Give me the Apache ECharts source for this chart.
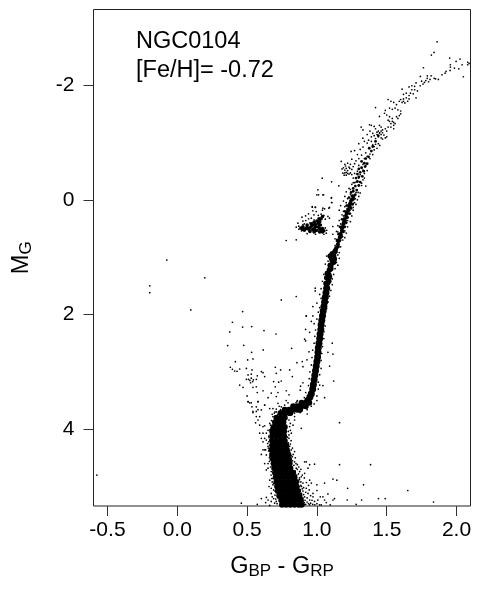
<!DOCTYPE html>
<html><head><meta charset="utf-8">
<style>html,body{margin:0;padding:0;background:#fff}#c{width:480px;height:600px}</style>
<script src="https://cdn.jsdelivr.net/npm/echarts@6/dist/echarts.min.js"></script>
</head><body><div id="c"></div>
<script>
const xTicks=[-0.5,0,0.5,1,1.5,2];
const yTicks=[-2,0,2,4];
const clusterName="NGC0104";
const metallicity="[Fe/H]= -0.72";

const lowerCore=[
[.75,5.32],[.78,5.32],[.81,5.32],[.84,5.32],[.87,5.32],[.89,5.32],
[.745,5.24],[.775,5.24],[.805,5.24],[.835,5.24],[.865,5.24],[.885,5.24],
[.73,5.16],[.76,5.16],[.79,5.16],[.82,5.16],[.85,5.16],[.875,5.16],
[.72,5.08],[.75,5.08],[.78,5.08],[.81,5.08],[.84,5.08],[.865,5.08],
[.715,5],[.745,5],[.775,5],[.805,5],[.835,5],[.855,5],
[.71,4.92],[.74,4.92],[.77,4.92],[.8,4.92],[.83,4.92],[.85,4.92],
[.705,4.84],[.735,4.84],[.765,4.84],[.795,4.84],[.825,4.84],[.84,4.84],
[.7,4.76],[.73,4.76],[.76,4.76],[.79,4.76],[.82,4.76],[.83,4.76],
[.695,4.68],[.725,4.68],[.755,4.68],[.785,4.68],[.81,4.68],
[.69,4.6],[.72,4.6],[.75,4.6],[.78,4.6],[.805,4.6],
[.685,4.52],[.715,4.52],[.745,4.52],[.775,4.52],[.8,4.52],
[.68,4.44],[.71,4.44],[.74,4.44],[.77,4.44],[.795,4.44],
[.675,4.36],[.705,4.36],[.735,4.36],[.765,4.36],[.785,4.36],
[.68,4.28],[.71,4.28],[.74,4.28],[.77,4.28],[.78,4.28],
[.68,4.2],[.71,4.2],[.74,4.2],[.77,4.2],
[.68,4.12],[.71,4.12],[.74,4.12],[.765,4.12],
[.68,4.04],[.71,4.04],[.74,4.04],[.765,4.04],
[.69,3.96],[.72,3.96],[.75,3.96],[.77,3.96],
[.7,3.88],[.73,3.88],[.76,3.88],
[.71,3.8],[.74,3.8],[.77,3.8],
[.74,3.72],[.77,3.72],[.8,3.72],[.81,3.72],
[.77,3.66],[.8,3.66],[.83,3.66],[.86,3.66],[.88,3.66],
[.83,3.6],[.86,3.6],[.89,3.6],[.92,3.6],
[.89,3.54],[.92,3.54],[.945,3.54]];

const upperCore=[
[.935,3.5],[.95,3.44],[.96,3.38],[.97,3.3],[.975,3.22],[.98,3.14],[.985,3.06],[.99,2.98],[.995,2.9],[1,2.82],
[1.005,2.74],[1.008,2.66],[1.01,2.58],[1.015,2.5],[1.02,2.42],[1.023,2.34],[1.028,2.26],[1.03,2.18],[1.035,2.1],[1.04,2.02],
[1.045,1.94],[1.05,1.86],[1.055,1.78],[1.06,1.7],[1.065,1.62],[1.07,1.54]];

const upperCoreThin=[
[1.075,1.46],[1.08,1.38],[1.085,1.3],[1.09,1.22],[1.1,1.14],[1.11,1.06],[1.12,.98],[1.13,.9],[1.105,1.02],[1.125,1.03],
[1.095,.98],[1.11,.94],[1.12,1.09],[1.1,1.2],[1.085,1.42],[1.09,1.34],[1.07,1.36],[1.065,1.46],[1.075,1.28],[1.095,1.14]];

const giantMid=[
[1.135,.86],[1.14,.84],[1.15,.78],[1.155,.72],[1.165,.66],[1.17,.6],[1.18,.54],[1.185,.48],[1.19,.42],[1.2,.36],
[1.21,.3],[1.215,.24],[1.225,.18],[1.235,.12],[1.24,.06],[1.25,0],[1.26,-.06]];

const giantCore=[
[1.14,.84],[1.155,.82],[1.15,.76],[1.165,.71],[1.145,.7],[1.16,.65],[1.18,.64],[1.17,.58],[1.155,.6],[1.19,.56],
[1.175,.5],[1.2,.47],[1.185,.44],[1.165,.47],[1.19,.38],[1.21,.4],[1.195,.33],[1.22,.31],[1.205,.27],[1.18,.34],
[1.215,.22],[1.235,.24],[1.22,.16],[1.245,.15],[1.2,.2],[1.23,.09],[1.255,.08],[1.215,.1],[1.24,.02],[1.262,-.01],
[1.25,-.07],[1.275,-.09],[1.23,-.04],[1.26,-.15],[1.285,-.17],[1.245,-.13],[1.275,-.24],[1.3,-.25],[1.26,-.2],[1.29,-.32],
[1.31,-.31],[1.3,-.4],[1.325,-.41],[1.28,-.38],[1.31,-.48],[1.335,-.5],[1.29,-.45],[1.32,-.56],[1.345,-.58],[1.3,-.54],
[1.34,-.64],[1.36,-.63],[1.32,-.67],[1.35,-.72],[1.37,-.75],[1.39,-.85],[1.375,-.9],[1.4,-.93],[1.42,-1.02],[1.44,-1.12]];

const horizontalBranchCore=[
[.9,.47],[.93,.48],[.96,.46],[.99,.47],[1.02,.5],[.94,.51],[.97,.52],[1,.53],[1.03,.54],[.92,.5],
[.96,.42],[.99,.43],[.95,.55],[.98,.56],[1.01,.41],[1.02,.38],[1.04,.56],[.885,.49],[1.03,.33],[.91,.53],
[.93,.44],[.95,.49],[.98,.5],[1.01,.47],[1.04,.5],[1.05,.54],[.97,.44],[.99,.54],[1.02,.56],[.895,.51],
[1,.37],[1.015,.33],[1.04,.29],[1.025,.44],[.98,.39]];

const upperGiants=[
[1.861,-2.757],[1.839,-2.571],[1.82,-2.525],[1.951,-2.473],[1.997,-2.414],[2.025,-2.455],[1.956,-2.356],[1.956,-2.316],[1.985,-2.298],[2.016,-2.286],
[2.04,-2.356],[2.08,-2.356],[2.08,-2.4],[2.09,-2.38],[1.763,-2.304],[1.925,-2.24],[1.918,-2.21],[1.896,-2.18],[1.954,-2.257],[2.049,-2.147],
[1.791,-2.164],[1.818,-2.164],[1.741,-2.153],[1.84,-2.12],[1.79,-2.12],[1.81,-2.1],[1.85,-2.11],[1.87,-2.1],[1.78,-2.08],[1.75,-2.07],
[1.77,-2.05],[1.71,-2.04],[1.74,-1.99],[1.7,-1.98],[1.68,-1.99],[1.66,-1.97],[1.68,-1.92],[1.72,-1.9],[1.67,-1.86],[1.64,-1.86],
[1.62,-1.84],[1.71,-1.78],[1.61,-1.93],[1.62,-1.76],[1.6,-1.75],[1.64,-1.78],[1.66,-1.76],[1.65,-1.72],[1.63,-1.69],[1.61,-1.7],
[1.59,-1.72],[1.51,-1.75],[1.53,-1.72],[1.55,-1.7],[1.57,-1.66],[1.42,-1.61],[1.56,-1.6],[1.54,-1.58],[1.58,-1.57],[1.6,-1.55],
[1.52,-1.6],[1.49,-1.56],[1.448,-1.455],[1.484,-1.51],[1.5,-1.48],[1.52,-1.45],[1.51,-1.39],[1.52,-1.37],[1.54,-1.42],[1.55,-1.35],
[1.59,-1.47],[1.57,-1.45],[1.53,-1.33],[1.55,-1.3],[1.51,-1.27],[1.317,-1.27],[1.33,-1.22],[1.377,-1.31],[1.39,-1.3],[1.41,-1.28],
[1.448,-1.3],[1.46,-1.27],[1.42,-1.24],[1.47,-1.22],[1.49,-1.24],[1.5,-1.2],[1.38,-1.2],[1.4,-1.16],[1.43,-1.18],[1.448,-1.164],
[1.46,-1.14],[1.47,-1.17],[1.48,-1.13],[1.44,-1.1],[1.46,-1.08],[1.42,-1.07],[1.49,-1.08],[1.36,-1.14],[1.329,-1.076],[1.34,-1.02],
[1.37,-1.04],[1.39,-1.02],[1.36,-.99],[1.4,-.96],[1.42,-.97],[1.44,-.98],[1.41,-.93],[1.43,-.9],[1.41,-.87],[1.45,-.95],
[1.3,-.98],[1.33,-.92],[1.31,-.88],[1.245,-.844],[1.27,-.86],[1.29,-.79],[1.32,-.78],[1.35,-.82],[1.38,-.8],[1.4,-.79],
[1.36,-.76],[1.34,-.72],[1.38,-.72],[1.3,-.72],[1.28,-.68],[1.25,-.71],[1.174,-.67],[1.2,-.62],[1.22,-.64],[1.24,-.62],
[1.27,-.63],[1.26,-.58],[1.3,-.6],[1.33,-.62],[1.35,-.6],[1.32,-.56],[1.19,-.56],[1.21,-.55],[1.23,-.57],[1.25,-.53],
[1.186,-.465],[1.2,-.47],[1.21,-.48],[1.22,-.46],[1.23,-.45],[1.24,-.47],[1.25,-.44],[1.27,-.46],[1.29,-.5],[1.31,-.44],
[1.34,-.46],[1.36,-.51],[1.33,-.52],[1.26,-.38],[1.3,-.38],[1.34,-.38],[1.28,-.31],[1.32,-.29],[1.25,-.27],[1.35,-.24],
[1.038,-.378],[1.105,-.315],[1.157,-.245],[1.23,-.2],[1.21,-.14],[1.28,-.13],[1.2,-.06],[1.3,-.06],[1.19,.02],[1.27,.05],
[1.17,.1],[1.26,.13],[1.16,.18],[1.24,.24],[1.007,-.175],[1.012,-.087],[1.048,-.087],[1.105,-.04],[1.105,.046],[.967,.128],
[.99,.133],[1.043,.145],[1.086,.145],
[1.21,-.43],[1.2,-.52],[1.18,-.54],[1.22,-.51],[1.195,-.43],[1.235,-.55],[1.205,-.59],[1.44,-1.2],[1.46,-1.2],[1.43,-1.14],
[1.39,-1.1],[1.41,-1.12],[1.45,-1.17],[1.47,-1.06],[1.5,-1.1],[1.55,-1.24],[1.54,-1.37],[1.53,-1.27],[1.56,-1.33],[1.58,-1.42],
[1.6,-1.5],[1.62,-1.72],[1.66,-1.82],[1.69,-1.85],[1.7,-1.92],[1.76,-2.02],[1.8,-2.06]];

const branchFuzz=[
[1,-.088],[1.043,-.088],[1.103,-.03],[1.107,.046],[.967,.116],[.988,.128],[1.09,.133],[1.055,.157],[1.04,.18],[.971,.19],
[.995,.203],[.94,.244],[.919,.279],[.893,.302],[.979,.261],[.96,.32],[.864,.407],[.852,.477],[.871,.511],[1.079,.29],
[1.06,.337],[1.09,.32],[1.114,.465],[1.114,.6],[1.067,.581],[.78,.709],[.852,.698],[.745,1.745],[.852,1.686],[.988,1.54],
[.988,1.588],[.971,1.861],[.924,2.024],[.971,2.024],[.9,.37],[.92,.36],[.94,.33],[.95,.4],[.91,.42],[1.01,.27],
[1.03,.25],[1.05,.27],[1.04,.3],[.98,.35],[1.06,.49],[1.07,.53],[1.05,.6],[.99,.6],[.93,.59],[.89,.54],
[.87,.46],[.9,.43],
[1.13,1],[1.15,.96],[1.16,1.02],[1.07,.98],[1.08,1.07],[1.06,1.12],[1.14,1.09],[1.15,1.14],[1.13,1.2],[1.07,1.25],
[1.05,1.3],[1.12,1.3],[1.11,1.38],[1.04,1.42],[1.06,1.5],[1.11,1.48],[1.03,1.55],[1.1,1.58],[1.02,1.65],[1.09,1.68],
[1.03,1.72],[1.08,1.78],[1,1.8],[1.02,1.88],[1.07,1.9],[1.01,1.96],[1.06,2.02],[1,2.08],[1.05,2.12],[.98,2.16],
[1.06,2.2],[.99,2.27],[1.05,2.3],[.985,2.38],[1.05,2.42],[.98,2.5],[1.04,2.56],[.97,2.62],[1.035,2.68],[.965,2.75],
[1.03,2.8],[.96,2.88],[1.03,2.94],[.95,3],[1.02,3.05],[.945,3.12],[1.01,3.18],[.94,3.24],[1.01,3.3],[.92,3.36],
[1,3.42],[.91,3.45],[1,3.5],[.98,3.56],[.85,3.54],[.86,3.5],[.96,3.6],[.93,3.66],[.88,3.71],[.84,3.72],
[1.2,.66],[1.13,.68],[1.21,.58],[1.14,.55],[1.22,.47],[1.15,.45],[1.24,.38],[1.16,.36],[1.25,.28],[1.18,.26],
[1.26,.18],[1.19,.2],[1.28,.08],[1.21,.1],[1.29,0],[1.22,-.02],[1.31,-.12],[1.24,-.1],[1.32,-.25],[1.26,-.3],
[1.13,.8],[1.17,.82],[1.125,.86],[1.16,.92],[1.14,.72],[1.185,.7],[1.15,.56],[1.2,.54],[1.17,.42],[1.22,.36],
[1.19,.28],[1.235,.18],[1.2,.12],[1.26,.06],[1.21,.05],[1.275,-.02],[1.24,-.18],[1.295,-.13],[1.27,-.3],[1.33,-.35]];

const blueStragglers=[
[-.197,1.5],[-.197,1.62],[-.075,1.05],[.197,1.36],[.097,1.92],[-.576,4.8],
[.468,1.949],[.395,2.135],[.468,2.22],[.533,2.21],[.621,2.28],[.707,2.34],[.376,2.304],[.361,2.542],[.476,2.537],[.533,2.659],
[.616,2.618],[.819,2.589],[.416,2.822],[.504,2.793],[.542,2.775],[.38,2.92],[.395,2.955],[.411,2.985],[.428,2.99],[.447,2.95],
[.495,2.94],[.535,2.967],[.53,3.04],[.507,3.054],[.602,2.996],[.614,3.014],[.702,2.92],[.74,2.967],[.709,3.025],[.805,2.967],
[.824,3.083],[.626,3.083],[.573,3.07],[.566,3.13],[.53,3.11],[.52,3.15],[.54,3.17],[.51,3.13],[.545,3.14],[.525,3.19],
[.495,3.13],[.447,3.23],[.471,3.27],[.542,3.27],[.566,3.26],[.573,3.36],[.614,3.33],[.5,3.42],[.673,3.37],[.702,3.26],
[.721,3.36],[.745,3.16],[.69,3.17],[.726,3.18],[.781,3.33],[.8,3.4],[.88,3.32],[.883,3.25],[.9,3.19],[.65,3.45],
[.709,3.43],[.578,3.52],[.507,3.52],[.519,3.54],[.535,3.61],[.566,3.69],[.542,3.71],[.602,3.665],[.566,3.78],[.626,3.58],
[.662,3.64],[.685,3.64],[.721,3.55],[.745,3.61],[.769,3.58],[.793,3.54],[.709,3.65],[.857,2.84],[.895,2.82],[.929,2.79],
[.9,2.91],[.943,2.65],[.924,2.025],[.96,2.12],[.919,2.26],[.948,2.31],[.912,2.43],[.919,2.46],[1.11,2.5],[1.079,2.66],
[1.115,2.69],[1.091,2.9],[1.12,3.16],[1.043,3.24],[1.02,3.23],[1.055,3.45],[.857,3.52],[.84,3.78],[.931,3.735],[.73,3.6],
[.76,3.63],[.74,3.66],[.78,3.5],[.7,3.7],[.72,3.74],[.75,3.7],[.68,3.74]];

const msBlueFuzz=[
[.507,3.52],[.53,3.54],[.578,3.52],[.626,3.58],[.542,3.69],[.566,3.61],[.59,3.78],[.578,3.66],[.561,3.89],[.578,3.84],
[.59,3.93],[.614,3.955],[.626,3.94],[.662,3.9],[.685,3.87],[.662,4.01],[.59,4.07],[.614,4.07],[.638,4.07],[.602,4.16],
[.626,4.16],[.614,4.22],[.638,4.19],[.662,4.19],[.614,4.36],[.626,4.36],[.602,4.44],[.633,4.36],[.638,4.45],[.626,4.6],
[.65,4.6],[.638,4.71],[.65,4.68],[.673,4.74],[.662,4.89],[.685,4.86],[.657,5],[.673,5.03],[.685,4.97],[.602,5.21],
[.638,5.19],[.673,5.12],[.65,5.235],[.673,5.26],[.69,5.21],[.633,5.28],[.697,5.29],[.709,5.26],[.459,5.29],[.573,5.31],
[.662,5.33],[.65,4.3],[.647,4.25],[.655,4.12],[.65,4.02],[.66,4.5],[.66,4.56],[.665,4.42],[.668,4.66],[.672,4.8],
[.68,4.92],[.69,5.06],[.7,5.15],[.68,5.18],[.705,5.02],[.655,4.38],[.67,3.98],[.668,4.08],[.69,4.75],[.68,4.65],
[.655,4.22],[.652,4.33],[.663,4.47],[.657,4.15],[.667,4.53],[.662,4.28],[.675,4.6],[.668,3.93],[.675,3.85],[.685,3.78],
[.695,3.72],[.7,3.78],[.71,3.7],[.682,4.7],[.676,4.86],[.69,4.95],[.7,5.08],[.705,5.22],[.715,5.3],[.722,5.2]];

const msRedFuzz=[
[1.162,3.886],[.888,3.985],[.829,3.93],[.84,3.84],[.817,4.07],[.805,3.955],[.8,4.16],[.84,4.39],[.817,4.36],[.805,4.3],
[.824,4.48],[.84,4.57],[.912,4.57],[.924,4.57],[.983,4.61],[.948,4.62],[.936,4.68],[.852,4.68],[.876,4.74],[.912,4.77],
[.948,4.89],[.888,4.83],[.864,4.89],[.9,4.94],[.876,5],[.924,5.03],[.96,4.94],[1,4.97],[1.055,4.94],[1.115,4.87],
[1.143,4.89],[1.162,4.62],[1.384,4.62],[1.334,4.97],[1.22,5.03],[1.651,5.07],[1,5.07],[1.024,5.18],[1.043,5.18],[1.079,5.13],
[.972,5.12],[.972,5.18],[.948,5.235],[.936,5.12],[.912,5.18],[1.007,5.235],[.983,5.26],[1,5.3],[1.055,5.235],[1.067,5.28],
[1.126,5.21],[1.115,5.235],[1.217,5.235],[1.32,5.235],[1.441,5.21],[1.489,5.21],[1.281,5.31],[1.835,5.27],[1.019,5.32],[1.031,5.32],
[1.095,5.32],[.948,5.32],[.81,4.02],[.8,4.1],[.815,4.2],[.81,4.26],[.825,4.33],[.83,4.44],[.845,4.5],[.85,4.6],
[.86,4.62],[.87,4.66],[.885,4.7],[.868,4.78],[.895,4.8],[.91,4.85],[.875,4.85],[.885,4.92],[.925,4.93],[.94,4.98],
[.89,5],[.905,5.02],[.945,5.06],[.9,5.08],[.92,5.1],[.955,5.16],[.905,5.14],[.93,5.2],[.915,5.24],[.965,5.24],
[.93,5.27],[.955,5.29],[.92,5.31],[.91,5.32],[.94,5.3],[.97,5.31],[.985,5.32],[.9,5.3],[.9,5.26],[.895,5.2],
[.8,3.84],[.81,3.9],[.795,4.04],[.79,4.14],[.795,4.24],[.805,4.38],[.815,4.46],[.825,4.55],[.835,4.63],[.845,4.73],
[.855,4.8],[.87,4.92],[.88,5.06],[.89,5.12],[.9,5.2],[.91,5.28],[.86,4.7],[.875,4.88],[.885,4.98],[.895,5.04]];

const chart=echarts.init(document.getElementById('c'),null,{renderer:'canvas'});
const dots=(data,size)=>({type:'scatter',data,symbol:'circle',symbolSize:size,itemStyle:{color:'#000',opacity:1},silent:true,animation:false,clip:true});
const axisFont={fontFamily:'Liberation Sans',fontSize:21,color:'#000'};
chart.setOption({
  animation:false,backgroundColor:'#fff',
  grid:{left:93.5,right:9.5,top:9.5,bottom:94,show:true,borderColor:'#222',borderWidth:1,backgroundColor:'#fff'},
  xAxis:{type:'value',min:-0.6,max:2.1,
    splitLine:{show:false},axisLine:{show:false,onZero:false},
    axisTick:{show:true,length:10,lineStyle:{color:'#333',width:1},customValues:xTicks},
    axisLabel:{...axisFont,margin:14,customValues:xTicks,formatter:v=>v.toFixed(1)},
    name:'{m|G}{s|BP}{m| - G}{s|RP}',nameLocation:'middle',nameGap:48,
    nameTextStyle:{rich:{m:{fontFamily:'Liberation Sans',fontSize:23.5,color:'#000'},s:{fontFamily:'Liberation Sans',fontSize:17,color:'#000',padding:[9,0,0,0]}}}},
  yAxis:{type:'value',inverse:true,min:-3.32,max:5.34,
    splitLine:{show:false},axisLine:{show:false,onZero:false},
    axisTick:{show:true,length:10,lineStyle:{color:'#333',width:1},customValues:yTicks},
    axisLabel:{...axisFont,margin:19,customValues:yTicks,formatter:v=>String(v),padding:[5,0,0,0]},
    name:'{m|M}{s|G}',nameLocation:'middle',nameGap:59,nameRotate:90,
    nameTextStyle:{rich:{m:{fontFamily:'Liberation Sans',fontSize:23.5,color:'#000'},s:{fontFamily:'Liberation Sans',fontSize:17,color:'#000',padding:[9,0,0,0]}}}},
  graphic:[
    {type:'text',left:136,top:30,style:{text:clusterName,font:'23.5px "Liberation Sans"',fill:'#000'}},
    {type:'text',left:136,top:59,style:{text:metallicity,font:'23.5px "Liberation Sans"',fill:'#000'}}
  ],
  series:[
    dots(lowerCore,6),dots(upperCore,7),dots(upperCoreThin,5.5),dots(giantMid,4.2),dots(giantCore,2.8),dots(horizontalBranchCore,3.6),
    dots(upperGiants,1.7),dots(branchFuzz,1.7),dots(blueStragglers,1.7),dots(msBlueFuzz,1.7),dots(msRedFuzz,1.7)
  ]
});
</script></body></html>
